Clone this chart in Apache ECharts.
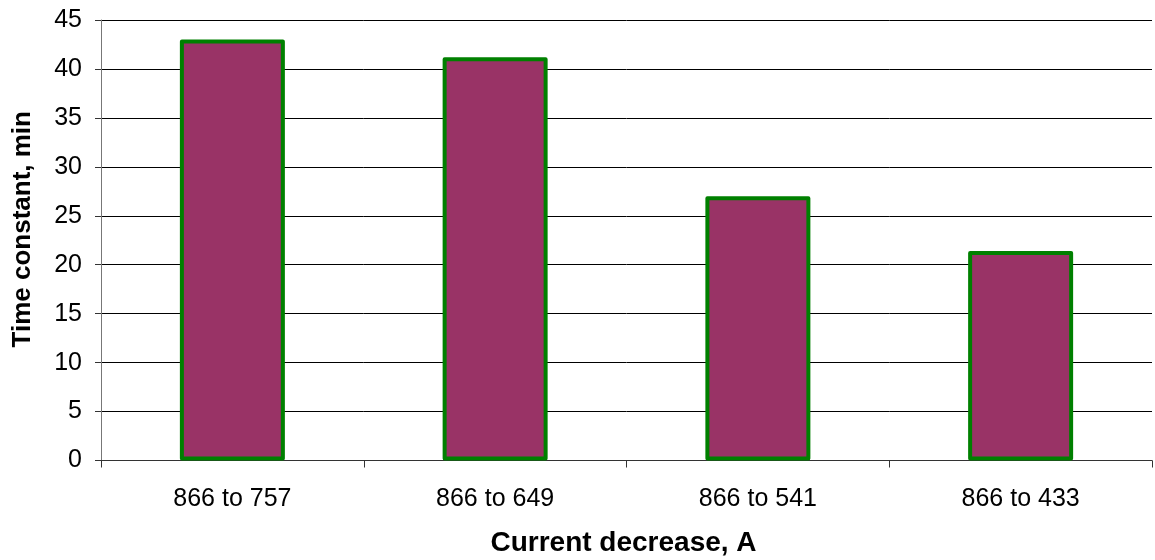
<!DOCTYPE html>
<html><head><meta charset="utf-8">
<script src="https://cdn.jsdelivr.net/npm/echarts@6/dist/echarts.min.js"></script>
<style>html,body{margin:0;padding:0;background:#fff}#c{width:1155px;height:560px}</style>
</head><body><div id="c"></div>
<script>
const categories = ['866 to 757', '866 to 649', '866 to 541', '866 to 433'];
const timeConstant = [43.0, 41.2, 27.0, 21.4];
const yTitle = 'Time constant, min';
const xTitle = 'Current decrease, A';

const chart = echarts.init(document.getElementById('c'), null, {renderer: 'canvas'});
chart.setOption({
  animation: false,
  backgroundColor: '#ffffff',
  textStyle: {fontFamily: 'Liberation Sans, Arial, sans-serif'},
  grid: {left: 101, right: 3, top: 20, bottom: 99.5, containLabel: false, outerBoundsMode: 'none'},
  xAxis: {
    type: 'category',
    data: categories,
    boundaryGap: true,
    axisLine: {show: true, lineStyle: {color: '#333', width: 1}},
    axisTick: {show: true, alignWithLabel: false, length: 7, inside: false, lineStyle: {color: '#333'}},
    axisLabel: {color: '#000', fontSize: 25, margin: 26, fontFamily: 'Liberation Sans'},
    name: xTitle,
    nameLocation: 'middle',
    nameGap: 69,
    nameTextStyle: {color: '#000', fontSize: 28, fontWeight: 'bold', fontFamily: 'Liberation Sans', padding: [0, 6, 0, 0]},
    splitLine: {show: false}
  },
  yAxis: {
    type: 'value',
    min: 0, max: 45, interval: 5,
    axisLine: {show: true, lineStyle: {color: '#777', width: 1}},
    axisTick: {show: true, length: 6, inside: false, lineStyle: {color: '#333'}},
    axisLabel: {color: '#000', fontSize: 25, margin: 19, fontFamily: 'Liberation Sans'},
    splitLine: {show: true, lineStyle: {color: '#000', width: 1}},
    name: yTitle,
    nameLocation: 'middle',
    nameGap: 65,
    nameRotate: 90,
    nameTextStyle: {color: '#000', fontSize: 26, fontWeight: 'bold', fontFamily: 'Liberation Sans', padding: [0, 0, 0, 22]}
  },
  series: [{
    type: 'bar',
    data: timeConstant,
    barWidth: 105,
    itemStyle: {color: '#993366', borderColor: '#008000', borderWidth: 4, borderJoin: 'round'},
    emphasis: {disabled: true}
  }]
});
</script></body></html>
